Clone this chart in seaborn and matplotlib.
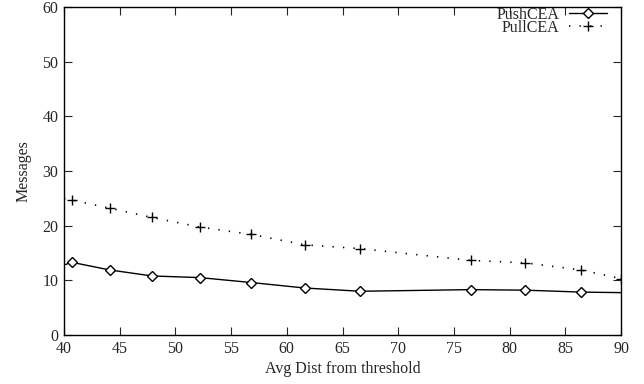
import numpy as np
import pandas as pd
import matplotlib
matplotlib.use("Agg")
import matplotlib.pyplot as plt
import seaborn as sns

# --- Data ---
push_x = [40.0, 40.7, 44.1, 47.9, 52.2, 56.8, 61.6, 66.6, 76.5, 81.4, 86.4, 90.0]
push_y = [12.8, 13.3, 11.9, 10.8, 10.5, 9.6, 8.6, 8.0, 8.3, 8.2, 7.85, 7.75]
pull_x = [40.0, 40.7, 44.1, 47.9, 52.2, 56.8, 61.6, 66.6, 76.5, 81.4, 86.4, 90.0]
pull_y = [24.9, 24.7, 23.2, 21.5, 19.75, 18.4, 16.5, 15.8, 13.65, 13.2, 11.9, 10.3]

x_ticks = [40, 45, 50, 55, 60, 65, 70, 75, 80, 85, 90]
y_ticks = [0, 10, 20, 30, 40, 50, 60]

push = pd.DataFrame({"dist": push_x, "msgs": push_y})
pull = pd.DataFrame({"dist": pull_x, "msgs": pull_y})

# --- Style ---
sns.set_style("ticks")
plt.rcParams["font.family"] = ["Liberation Serif", "DejaVu Serif"]
plt.rcParams["font.size"] = 11.5

fig = plt.figure(figsize=(6.44, 3.84), dpi=100)
ax = fig.add_axes([64 / 644, 1 - 335 / 384, (621 - 64) / 644, (335 - 7) / 384])

sns.lineplot(data=push, x="dist", y="msgs", ax=ax, color="black", lw=1.0,
             marker="D", markersize=5, markerfacecolor="white",
             markeredgecolor="black", markeredgewidth=1.0,
             markevery=list(range(1, len(push_x) - 1)), label="PushCEA")
sns.lineplot(data=pull, x="dist", y="msgs", ax=ax, color="black", lw=1.2,
             linestyle=(0, (0.8, 5.5)), marker="+", markersize=7,
             markeredgecolor="black", markeredgewidth=1.0,
             markevery=list(range(1, len(pull_x))), label="PullCEA")

ax.set_xlim(40, 90)
ax.set_ylim(0, 60)
ax.set_xticks(x_ticks)
ax.set_yticks(y_ticks)
ax.set_xlabel("Avg Dist from threshold", labelpad=3)
ax.set_ylabel("Messages", labelpad=8)

ax.tick_params(direction="in", length=6, width=0.8, top=True, right=True,
               labelsize=11.5, pad=4)
for s in ax.spines.values():
    s.set_linewidth(1.0)
    s.set_color("black")

leg = ax.legend(loc="upper right", bbox_to_anchor=(0.975, 1.0),
                frameon=False, markerfirst=False, borderpad=0.0,
                handlelength=2.4, handletextpad=0.6, borderaxespad=0.0,
                labelspacing=-0.2)
for h in leg.legend_handles:
    h.set_markevery([1])

fig.savefig("out.png", dpi=100)
